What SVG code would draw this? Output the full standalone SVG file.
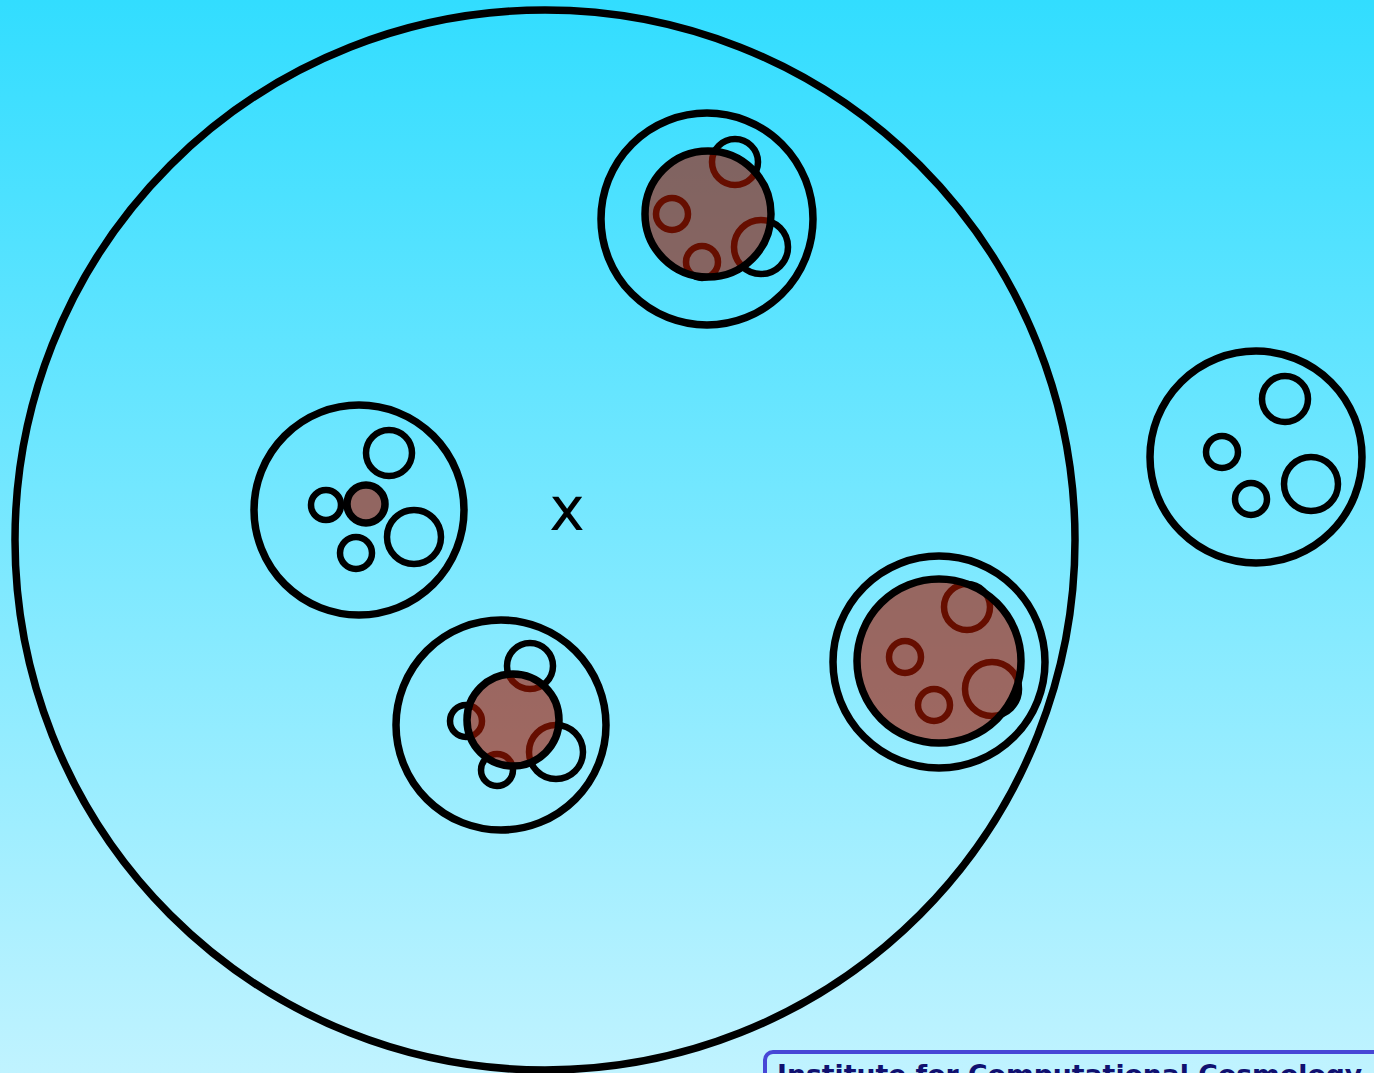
<svg xmlns="http://www.w3.org/2000/svg" width="1374" height="1073" viewBox="0 0 1374 1073">
<defs>
<linearGradient id="bg" x1="0" y1="0" x2="0" y2="1">
<stop offset="0" stop-color="#32ddff"/>
<stop offset="1" stop-color="#c0f3ff"/>
</linearGradient>
</defs>
<style>
.o{fill:none;stroke:#000;stroke-width:7.5}
.s{fill:none;stroke:#000;stroke-width:6.5}
.b{fill:rgb(165,22,0);fill-opacity:0.62;stroke:#000;stroke-width:7.5}
.lbl{font-family:"DejaVu Sans","Liberation Sans",sans-serif}
</style>
<rect width="1374" height="1073" fill="url(#bg)"/>
<g id="halo">
<circle class="o" cx="545" cy="540" r="530"/>
<text class="lbl" x="567" y="530" font-size="60" text-anchor="middle">x</text>
</g>
<g id="group-top">
<circle class="o" cx="707" cy="219" r="106"/>
<circle class="s" cx="735" cy="162" r="23"/>
<circle class="s" cx="672" cy="214" r="16"/>
<circle class="s" cx="702" cy="262" r="16"/>
<circle class="s" cx="761" cy="247" r="27"/>
<circle class="b" cx="708" cy="214" r="63"/>
</g>
<g id="group-left">
<circle class="o" cx="359" cy="510" r="105"/>
<circle class="s" cx="389" cy="453" r="23"/>
<circle class="s" cx="326" cy="505" r="15"/>
<circle class="s" cx="356" cy="553" r="16"/>
<circle class="s" cx="414" cy="537" r="27"/>
<circle class="b" cx="366" cy="504" r="19"/>
</g>
<g id="group-bottom">
<circle class="o" cx="501" cy="725" r="105"/>
<circle class="s" cx="530" cy="666" r="23"/>
<circle class="s" cx="466" cy="721" r="16"/>
<circle class="s" cx="497" cy="770" r="16"/>
<circle class="s" cx="556" cy="752" r="27"/>
<circle class="b" cx="513" cy="720" r="46"/>
</g>
<g id="group-right">
<circle class="o" cx="939" cy="662" r="106"/>
<circle class="s" cx="967" cy="607" r="23"/>
<circle class="s" cx="905" cy="657" r="16"/>
<circle class="s" cx="934" cy="705" r="16"/>
<circle class="s" cx="992" cy="689" r="27"/>
<circle class="b" cx="939" cy="661" r="82"/>
</g>
<g id="group-outside">
<circle class="o" cx="1256" cy="457" r="106"/>
<circle class="s" cx="1285" cy="399" r="23"/>
<circle class="s" cx="1222" cy="452" r="16"/>
<circle class="s" cx="1251" cy="499" r="16"/>
<circle class="s" cx="1311" cy="484" r="27"/>
</g>
<g id="label">
<rect x="765" y="1052" width="620" height="60" rx="8" fill="none" stroke="#4747d6" stroke-width="4"/>
<text class="lbl" x="777" y="1084" font-size="26.7" font-weight="bold" fill="#101070">Institute for Computational Cosmology</text>
</g>
</svg>
